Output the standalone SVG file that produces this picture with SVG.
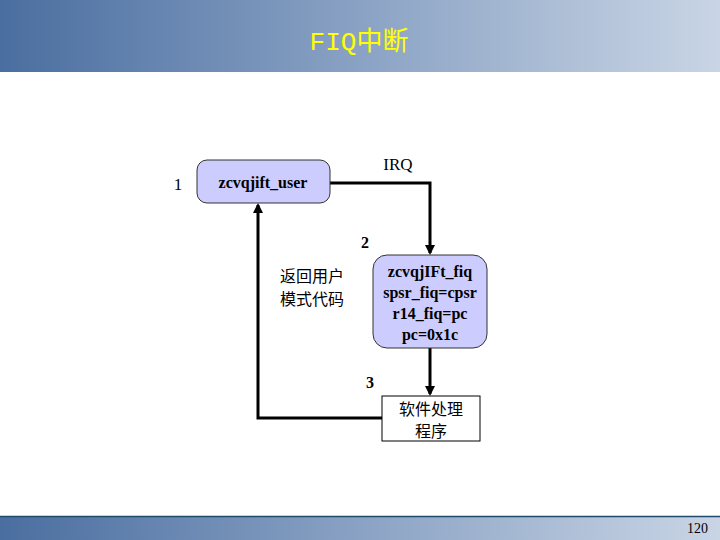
<svg xmlns="http://www.w3.org/2000/svg" width="720" height="540" viewBox="0 0 720 540">
<defs>
<linearGradient id="band" x1="0" y1="0" x2="1" y2="0">
<stop offset="0" stop-color="#4a6ea0"/>
<stop offset="0.5" stop-color="#8aa2c4"/>
<stop offset="1" stop-color="#c9d5e5"/>
</linearGradient>
<marker id="arr" markerWidth="10" markerHeight="10" refX="8" refY="5" orient="auto" markerUnits="userSpaceOnUse">
<path d="M0,0 L10,5 L0,10 z" fill="#000"/>
</marker>
<style>
.serif{font-family:"Liberation Serif","Times New Roman",serif;fill:#000}
.b{font-weight:bold}
.cjk{font-family:"Noto Sans CJK SC","Noto Sans CJK JP",sans-serif;fill:#000}
.node{fill:#ccccff;stroke:#333;stroke-width:1}
.conn{fill:none;stroke:#000;stroke-width:3}
</style>
</defs>
<rect width="720" height="540" fill="#fff"/>
<rect x="0" y="0" width="720" height="72" fill="url(#band)"/>
<text x="359" y="50" text-anchor="middle" font-family="'Liberation Mono','Noto Sans CJK SC',monospace" font-size="26" fill="#ffff00">FIQ中断</text>
<rect x="0" y="517" width="720" height="23" fill="url(#band)"/>
<line x1="0" y1="516.5" x2="720" y2="516.5" stroke="#1f4a6a" stroke-width="1.5"/>
<text x="708" y="533" text-anchor="end" class="serif" font-size="14">120</text>

<g id="connectors">
<polyline class="conn" points="330,183 430,183 430,253" marker-end="url(#arr)"/>
<line class="conn" x1="430" y1="348" x2="430" y2="394" marker-end="url(#arr)"/>
<polyline class="conn" points="382,418 258,418 258,205" marker-end="url(#arr)"/>
</g>

<g id="node-user">
<rect class="node" x="197" y="160" width="133" height="43" rx="10"/>
<text x="263" y="188" text-anchor="middle" class="serif b" font-size="16">zcvqjift_user</text>
</g>
<g id="node-fiq">
<rect class="node" x="373" y="255" width="114" height="93" rx="14"/>
<text x="430" y="277" text-anchor="middle" class="serif b" font-size="16">zcvqjIFt_fiq</text>
<text x="430" y="298" text-anchor="middle" class="serif b" font-size="16">spsr_fiq=cpsr</text>
<text x="430" y="319" text-anchor="middle" class="serif b" font-size="16">r14_fiq=pc</text>
<text x="430" y="340" text-anchor="middle" class="serif b" font-size="16">pc=0x1c</text>
</g>
<g id="node-handler">
<rect x="382" y="396" width="98" height="45" fill="#fff" stroke="#000" stroke-width="1"/>
<text x="431" y="415" text-anchor="middle" class="cjk" font-size="16">软件处理</text>
<text x="431" y="437" text-anchor="middle" class="cjk" font-size="16">程序</text>
</g>
<g id="labels">
<text x="178" y="190" text-anchor="middle" class="serif" font-size="17">1</text>
<text x="398" y="170" text-anchor="middle" class="serif" font-size="17">IRQ</text>
<text x="365" y="248" text-anchor="middle" class="serif b" font-size="16">2</text>
<text x="370" y="388" text-anchor="middle" class="serif b" font-size="16">3</text>
<text x="312" y="282" text-anchor="middle" class="cjk" font-size="16">返回用户</text>
<text x="312" y="305" text-anchor="middle" class="cjk" font-size="16">模式代码</text>
</g>
</svg>
